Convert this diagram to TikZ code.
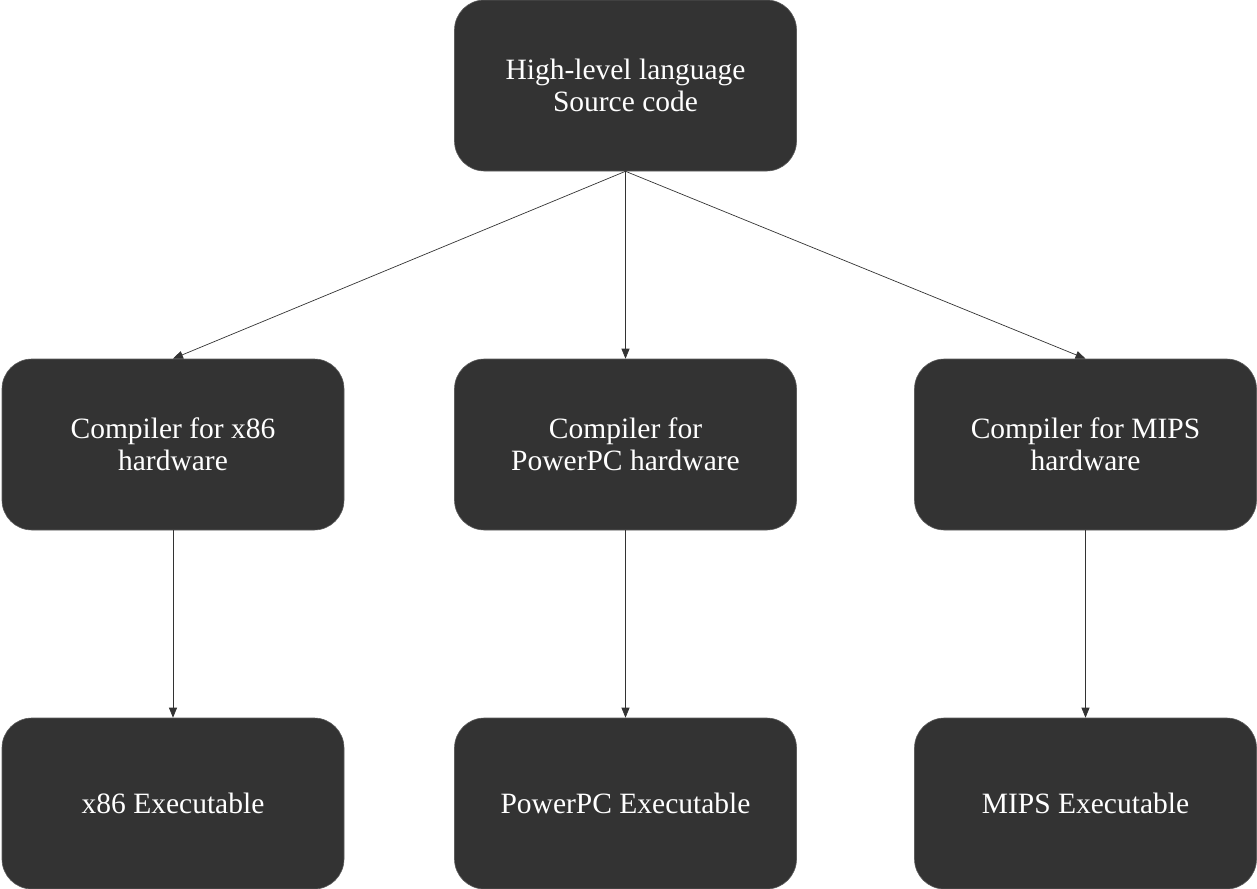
\documentclass[tikz,border=0pt]{standalone}
\usepackage{fontspec}
\setmainfont{Liberation Serif}
\usetikzlibrary{arrows.meta}
\definecolor{boxfill}{HTML}{333333}
\definecolor{linecol}{HTML}{333333}
\begin{document}
\begin{tikzpicture}[x=1pt,y=-1pt,
  box/.style={draw=boxfill!80!white, line width=0.6pt, fill=boxfill, rounded corners=30pt,
    minimum width=342pt, minimum height=171pt, inner sep=0pt, text=white,
    align=center, font=\fontsize{29.5}{32}\selectfont},
  conn/.style={draw=linecol, line width=0.7pt, -{Triangle[length=10pt,width=8pt]}}]
\useasboundingbox (0,0) rectangle (1257,888);
\node[box] (src) at (625.5,85.5) {High-level language\\Source code};
\node[box] (cx) at (173,444.5) {Compiler for x86\\hardware};
\node[box] (cp) at (625.5,444.5) {Compiler for\\PowerPC hardware};
\node[box] (cm) at (1085.5,444.5) {Compiler for MIPS\\hardware};
\node[box] (ex) at (173,803.5) {x86 Executable};
\node[box] (ep) at (625.5,803.5) {PowerPC Executable};
\node[box] (em) at (1085.5,803.5) {MIPS Executable};
\draw[conn] (src.south) -- (cx.north);
\draw[conn] (src.south) -- (cp.north);
\draw[conn] (src.south) -- (cm.north);
\draw[conn] (cx.south) -- (ex.north);
\draw[conn] (cp.south) -- (ep.north);
\draw[conn] (cm.south) -- (em.north);
\end{tikzpicture}
\end{document}
